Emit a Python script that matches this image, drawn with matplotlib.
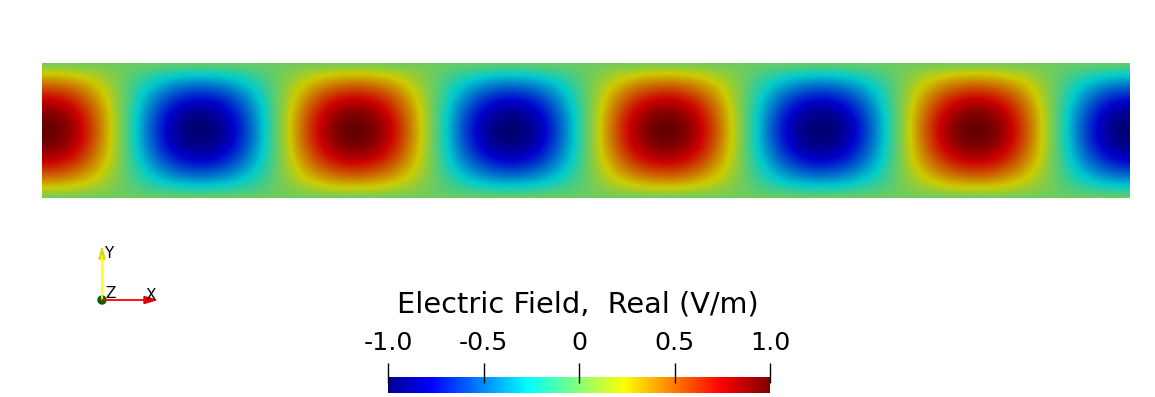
import numpy as np
import matplotlib
matplotlib.use("Agg")
import matplotlib.pyplot as plt
from matplotlib.colors import LinearSegmentedColormap

# ---- data ----
guide_length = 8.06        # in units of the guide height
guide_height = 1.0
wavelength = 2.30          # distance between two red maxima
first_peak_x = 0.022       # position of the first (positive) maximum
amplitude = 1.0
cbar_ticks = [-1.0, -0.5, 0.0, 0.5, 1.0]
cbar_labels = ["-1.0", "-0.5", "0", "0.5", "1.0"]
cbar_title = "Electric Field,  Real (V/m)"

# ParaView "Jet" preset control points (normalised position, r, g, b)
jet_points = [
    (0.000, 0.0, 0.0, 0.5625),
    (0.111, 0.0, 0.0, 1.0),
    (0.365, 0.0, 1.0, 1.0),
    (0.492, 0.5, 1.0, 0.5),
    (0.619, 1.0, 1.0, 0.0),
    (0.873, 1.0, 0.0, 0.0),
    (1.000, 0.5, 0.0, 0.0),
]
shade = 0.80  # lighting on the rendered surface

W, H = 1155, 397
fig = plt.figure(figsize=(W / 100, H / 100), dpi=100)

def px_axes(x0, y0, x1, y1):
    return fig.add_axes([x0 / W, 1 - y1 / H, (x1 - x0) / W, (y1 - y0) / H])

cmap = LinearSegmentedColormap.from_list("pvjet", [(p, (r, g, b)) for p, r, g, b in jet_points])
cmap_shaded = LinearSegmentedColormap.from_list(
    "pvjet_shaded", [(p, (r * shade, g * shade, b * shade)) for p, r, g, b in jet_points])

# ---- field ----
x = np.linspace(0, guide_length, 2200)
y = np.linspace(0, guide_height, 280)
X, Y = np.meshgrid(x, y)
E = amplitude * np.cos(2 * np.pi * (X - first_peak_x) / wavelength) * np.sin(np.pi * Y / guide_height)

ax = px_axes(42, 63, 1130, 198)
ax.imshow(E, cmap=cmap_shaded, vmin=-1, vmax=1, origin="lower",
          extent=[0, guide_length, 0, guide_height], aspect="auto", interpolation="bilinear")
ax.set_axis_off()

# ---- colour bar ----
font = "DejaVu Sans"
cax = px_axes(388, 377, 770, 393)
grad = np.linspace(-1, 1, 512)[None, :]
cax.imshow(grad, cmap=cmap, vmin=-1, vmax=1, extent=[-1, 1, 0, 1], aspect="auto")
cax.set_xlim(-1, 1)
cax.set_ylim(0, 1)
for s in cax.spines.values():
    s.set_visible(False)
cax.set_yticks([])
cax.xaxis.tick_top()
cax.set_xticks(cbar_ticks)
cax.set_xticklabels(cbar_labels, fontsize=18.3, family=font, color="black")
cax.tick_params(axis="x", length=0, pad=16)
cax.vlines(cbar_ticks, 0.62, 1.88, color="black", lw=1.0, clip_on=False)
fig.text(578 / W, 1 - 313 / H, cbar_title, ha="center", va="baseline",
         fontsize=20.7, family=font, color="black")

# ---- orientation triad ----
tax = px_axes(0, 0, W, H)
tax.set_xlim(0, W)
tax.set_ylim(H, 0)
tax.set_axis_off()
tax.plot([102, 102], [300, 256], color="#ffff00", lw=1.3)
tax.add_patch(plt.Polygon([[99, 259], [105, 259], [102, 248]], color="#d8d800"))
tax.plot([102, 146], [300, 300], color="#ff0000", lw=1.3)
tax.add_patch(plt.Polygon([[144, 296.5], [144, 303.5], [156, 300]], color="#e00000"))
tax.add_patch(plt.Circle((102, 300), 4, color="#006400"))
tax.text(104.5, 253.5, "Y", fontsize=11, family=font, va="center", ha="left")
tax.text(105, 294, "Z", fontsize=11, family=font, va="center", ha="left")
tax.text(146, 295, "X", fontsize=11, family=font, va="center", ha="left")

fig.savefig("out.png", dpi=100)
